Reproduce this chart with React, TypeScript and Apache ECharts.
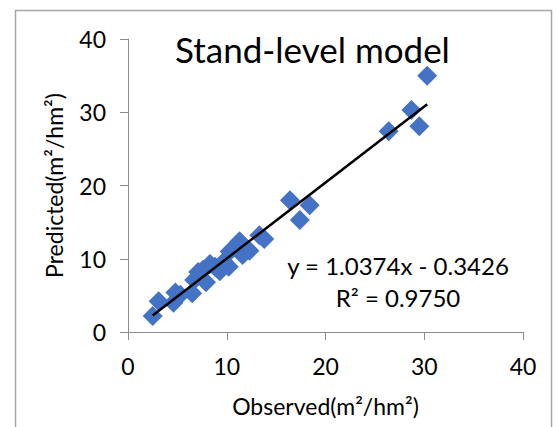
import React, { useEffect, useRef } from "react";
import * as echarts from "echarts";

const observed = [2.5, 3.1, 4.6, 4.8, 5.3, 6.5, 6.7, 7.1, 7.6, 7.9, 8.3, 8.8, 9.3, 9.7, 10.2, 10.3, 10.8, 11.3, 11.6, 12.3, 13.3, 13.8, 16.4, 17.4, 18.4, 26.4, 28.7, 29.5, 30.3];
const predicted = [2.2, 4.2, 4.0, 5.4, 5.1, 5.3, 7.1, 8.2, 8.5, 6.8, 9.3, 8.9, 8.3, 9.6, 8.9, 11.0, 11.6, 12.4, 10.5, 11.1, 13.2, 12.7, 18.0, 15.3, 17.3, 27.4, 30.3, 28.1, 35.0];
const slope = 1.0374;
const intercept = -0.3426;
const rSquared = "0.9750";
const xTicks = [0, 10, 20, 30, 40];
const yTicks = [0, 10, 20, 30, 40];
const titleText = "Stand-level model";
const xName = "Observed(m²/hm²)";
const yName = "Predicted(m²/hm²)";

const FONT = "Lato";

export default function App() {
  const ref = useRef<HTMLDivElement>(null);
  useEffect(() => {
    if (!ref.current) return;
    const chart = echarts.init(ref.current, null, { renderer: "svg" });
    const pts = observed.map((x, i) => [x, predicted[i]]);
    const x0 = Math.min(...observed);
    const x1 = Math.max(...observed);
    const trend = [
      [x0, slope * x0 + intercept],
      [x1, slope * x1 + intercept],
    ];
    const axisCommon = {
      min: xTicks[0],
      max: xTicks[xTicks.length - 1],
      interval: xTicks[1] - xTicks[0],
      axisLine: { show: true, lineStyle: { color: "#8c8c8c", width: 1 } },
      axisTick: { show: true, length: 8, lineStyle: { color: "#8c8c8c", width: 1 } },
      splitLine: { show: false },
      axisLabel: { color: "#000", fontFamily: FONT, fontSize: 23 },
      nameTextStyle: { color: "#000", fontFamily: FONT, fontSize: 23 },
      nameLocation: "middle" as const,
    };
    chart.setOption({
      animation: false,
      backgroundColor: "#fff",
      title: {
        text: titleText,
        left: 170,
        top: 26,
        textStyle: { fontFamily: FONT, fontSize: 35, fontWeight: "normal", color: "#000" },
      },
      grid: { left: 128, top: 39, width: 395, height: 293 },
      xAxis: {
        ...axisCommon,
        type: "value",
        name: xName,
        nameGap: 62,
        axisLabel: { ...axisCommon.axisLabel, margin: 22 },
      },
      yAxis: {
        ...axisCommon,
        type: "value",
        min: yTicks[0],
        max: yTicks[yTicks.length - 1],
        interval: yTicks[1] - yTicks[0],
        name: yName,
        nameGap: 63,
        axisLabel: { ...axisCommon.axisLabel, margin: 22 },
      },
      graphic: [
        {
          type: "rect",
          shape: { x: 15.5, y: 10.5, width: 536, height: 500 },
          style: { fill: "none", stroke: "#a6a6a6", lineWidth: 1.5 },
          silent: true,
        },
        {
          type: "text",
          x: 398,
          y: 265,
          style: {
            text: `y = ${slope.toFixed(4)}x - ${Math.abs(intercept).toFixed(4)}`,
            fontFamily: FONT,
            fontSize: 24,
            fill: "#000",
            textAlign: "center",
            textVerticalAlign: "middle",
          },
        },
        {
          type: "text",
          x: 398,
          y: 297,
          style: {
            text: `R² = ${rSquared}`,
            fontFamily: FONT,
            fontSize: 24,
            fill: "#000",
            textAlign: "center",
            textVerticalAlign: "middle",
          },
        },
      ],
      series: [
        {
          type: "scatter",
          data: pts,
          symbol: "diamond",
          symbolSize: 20,
          itemStyle: { color: "#4472C4", opacity: 1 },
          z: 2,
        },
        {
          type: "line",
          data: trend,
          symbol: "none",
          lineStyle: { color: "#000", width: 2.5 },
          z: 3,
        },
      ],
    });
    return () => chart.dispose();
  }, []);
  return (
    <div
      ref={ref}
      style={{ position: "fixed", left: 0, top: 0, width: 558, height: 427 }}
    />
  );
}
